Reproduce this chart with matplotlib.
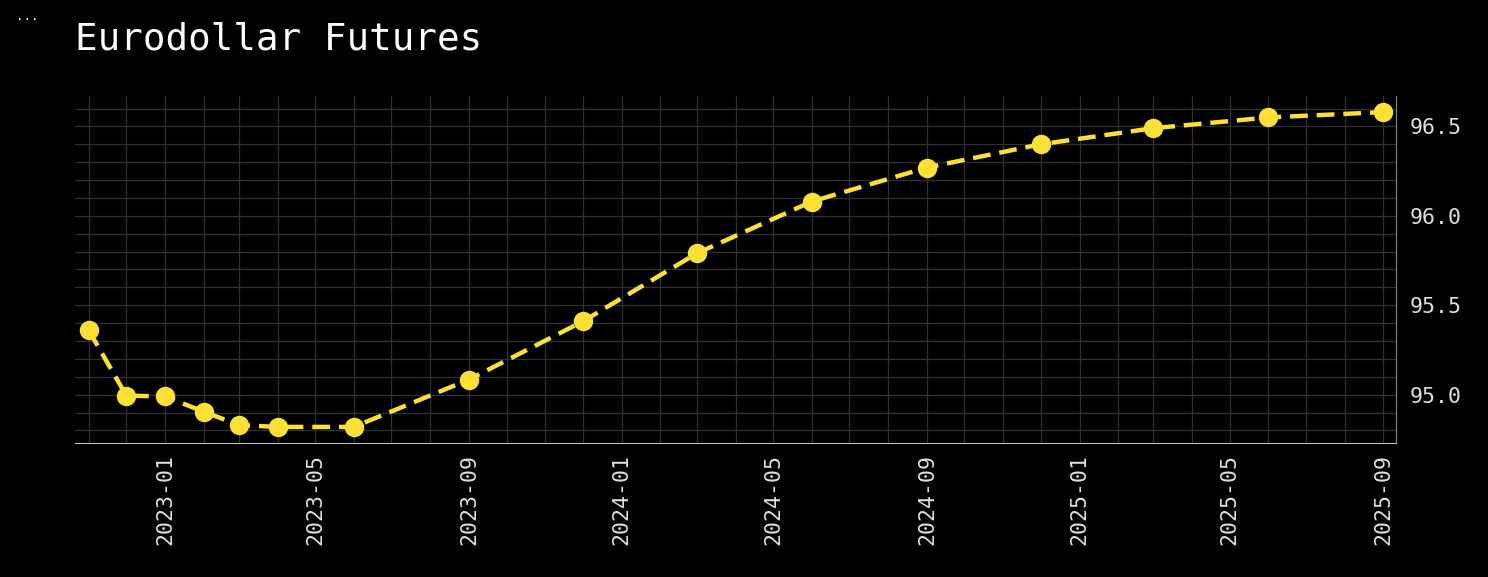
import matplotlib
matplotlib.use("Agg")
import matplotlib.pyplot as plt
import matplotlib.dates as mdates
import numpy as np
import pandas as pd

plt.rcParams['font.family'] = ['DejaVu Sans Mono']

# contract dates and prices
dates = ["2022-11-01", "2022-12-01", "2023-01-01", "2023-02-01", "2023-03-01",
         "2023-04-01", "2023-06-01", "2023-09-01", "2023-12-01", "2024-03-01",
         "2024-06-01", "2024-09-01", "2024-12-01", "2025-03-01", "2025-06-01",
         "2025-09-01"]
prices = [95.36, 94.995, 94.99, 94.905, 94.83, 94.82, 94.82, 95.085, 95.41,
          95.79, 96.08, 96.27, 96.40, 96.49, 96.55, 96.58]

x = pd.to_datetime(dates)

fig = plt.figure(figsize=(14.88, 5.77), dpi=100, facecolor='black')
ax = fig.add_axes([75 / 1488, 1 - 443 / 577, (1396 - 75) / 1488, (443 - 96) / 577])
ax.set_facecolor('black')

ax.plot(x, prices, color='#fde034', linestyle='--', linewidth=3.2,
        dashes=(4, 2), marker='o', markersize=13, zorder=5)

ax.set_xlim(pd.Timestamp("2022-10-21"), pd.Timestamp("2025-09-11"))
ax.set_ylim(94.73, 96.67)

ax.xaxis.set_major_locator(mdates.MonthLocator(bymonth=[1, 5, 9]))
ax.xaxis.set_major_formatter(mdates.DateFormatter('%Y-%m'))
ax.xaxis.set_minor_locator(mdates.MonthLocator())
ax.yaxis.set_major_locator(plt.MultipleLocator(0.5))
ax.yaxis.set_minor_locator(plt.MultipleLocator(0.1))
ax.yaxis.set_major_formatter(plt.FormatStrFormatter('%.1f'))
ax.yaxis.tick_right()

ax.grid(True, which='both', color='#303030', linewidth=0.9)
ax.set_axisbelow(True)

ax.tick_params(which='both', length=0, colors='#e0e0e0', labelsize=15.5)
ax.tick_params(axis='x', rotation=90, pad=8)
ax.tick_params(axis='y', pad=10)

for side in ['top', 'left']:
    ax.spines[side].set_visible(False)
ax.spines['bottom'].set_color('#bbbbbb')
ax.spines['right'].set_color('#888888')

fig.text(75 / 1488, 1 - 40 / 577, "Eurodollar Futures", color='white',
         fontsize=27, va='center', ha='left')
fig.text(16 / 1488, 1 - 16 / 577, "...", color='white', fontsize=9,
         va='center', ha='left')

fig.savefig("out.png", dpi=100, facecolor='black')
